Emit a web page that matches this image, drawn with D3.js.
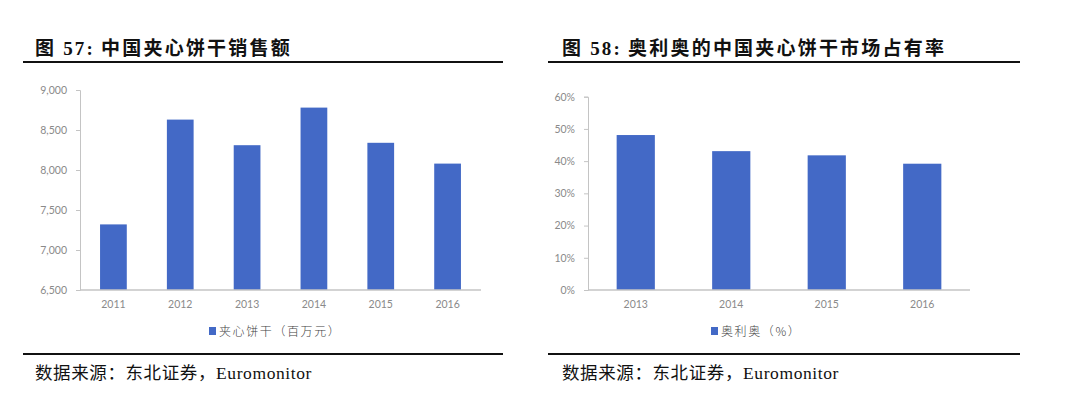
<!DOCTYPE html>
<html lang="zh">
<head>
<meta charset="utf-8">
<title>夹心饼干</title>
<script src="https://d3js.org/d3.v7.min.js"></script>
<style>
  body { margin: 0; background: #fff; }
  .tick text { font-family: Lato, "Open Sans", sans-serif; font-size: 10.5px; fill: #8a8a8a; }
  .title { font-family: "Liberation Serif", "Noto Sans CJK SC", serif; font-size: 19px; font-weight: bold; letter-spacing: 2.2px; fill: #111; }
  .source { font-family: "Liberation Serif", "Noto Sans CJK SC", serif; font-size: 17.5px; letter-spacing: 0.6px; fill: #111; }
  .legend { font-family: "Noto Sans CJK SC", sans-serif; font-size: 12px; font-weight: 300; letter-spacing: 1.6px; fill: #444; }
</style>
</head>
<body>
<svg width="1080" height="397"></svg>
<script>
// chart 57: sales of sandwich biscuits in China (million yuan)
var years57 = ["2011", "2012", "2013", "2014", "2015", "2016"];
var sales57 = [7320, 8630, 8310, 8780, 8340, 8080];
var ticks57 = [6500, 7000, 7500, 8000, 8500, 9000];

// chart 58: Oreo market share
var years58 = ["2013", "2014", "2015", "2016"];
var share58 = [0.481, 0.431, 0.418, 0.392];
var ticks58 = [0, 0.1, 0.2, 0.3, 0.4, 0.5, 0.6];

var barColor = "#4369c6";
var svg = d3.select("svg");

function panel(opt) {
  var x = d3.scaleBand().domain(opt.cats).range(opt.xr).paddingInner(0.6).paddingOuter(0.3);
  var y = d3.scaleLinear().domain(opt.dom).range([290, opt.ytop]);

  // title + rules
  var t = svg.append("text").attr("class", "title").attr("x", opt.titleX).attr("y", 55);
  t.append("tspan").text(opt.titleNo);
  t.append("tspan").attr("dx", 6).text(opt.title);
  svg.append("line").attr("x1", opt.rule[0]).attr("x2", opt.rule[1]).attr("y1", 62).attr("y2", 62)
    .attr("stroke", "#111").attr("stroke-width", 2);
  svg.append("line").attr("x1", opt.rule[0]).attr("x2", opt.rule[1]).attr("y1", 354).attr("y2", 354)
    .attr("stroke", "#111").attr("stroke-width", 2);
  svg.append("text").attr("class", "source").attr("x", opt.titleX).attr("y", 379).text("数据来源：东北证券，Euromonitor");

  // y axis
  var ya = svg.append("g").attr("transform", "translate(" + opt.xr[0] + ",0)")
    .call(d3.axisLeft(y).tickValues(opt.ticks).tickSize(4).tickPadding(9).tickFormat(opt.fmt));
  ya.selectAll("line, path").attr("stroke", "#c4c4c4");

  // bars
  svg.selectAll(null).data(opt.vals).enter().append("rect")
    .attr("x", function(d, i) { return x(opt.cats[i]); })
    .attr("y", function(d) { return y(d); })
    .attr("width", x.bandwidth())
    .attr("height", function(d) { return 290 - y(d); })
    .attr("fill", barColor);

  // x axis
  var xa = svg.append("g").attr("transform", "translate(0,290)")
    .call(d3.axisBottom(x).tickSize(0).tickPadding(11));
  xa.select("path").attr("stroke", "#c4c4c4").attr("stroke-width", 1.5).attr("d", "M" + opt.xr[0] + ",0H" + opt.xr[1]);

  // legend
  svg.append("rect").attr("x", opt.legX).attr("y", 327).attr("width", 7).attr("height", 8).attr("fill", barColor);
  svg.append("text").attr("class", "legend").attr("x", opt.legX + 10).attr("y", 336).text(opt.legend);
}

panel({
  cats: years57, vals: sales57, ticks: ticks57, dom: [6500, 9000], ytop: 90,
  xr: [80, 481], fmt: d3.format(","), titleNo: "图 57:", title: "中国夹心饼干销售额",
  titleX: 35, rule: [23, 503], legX: 209, legend: "夹心饼干（百万元）"
});

panel({
  cats: years58, vals: share58, ticks: ticks58, dom: [0, 0.6], ytop: 96.7,
  xr: [588, 970], fmt: d3.format(".0%"), titleNo: "图 58:", title: "奥利奥的中国夹心饼干市场占有率",
  titleX: 562, rule: [548, 1020], legX: 711, legend: "奥利奥（%）"
});
</script>
</body>
</html>
